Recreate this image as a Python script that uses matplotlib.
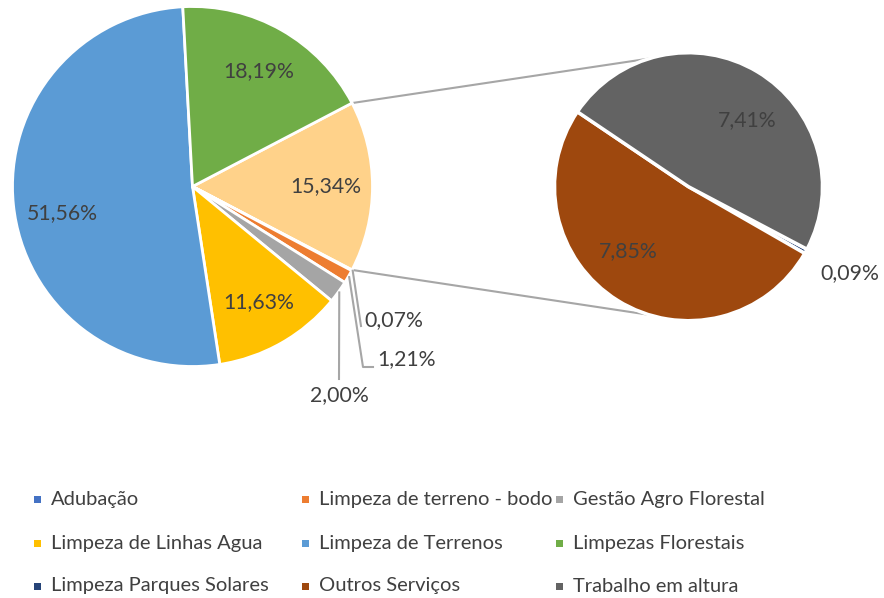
import numpy as np
import matplotlib
matplotlib.use("Agg")
import matplotlib.pyplot as plt
from matplotlib.patches import Rectangle

plt.rcParams['font.family'] = ['Lato', 'DejaVu Sans']

# series, in legend order
names = ['Adubação', 'Limpeza de terreno - bodo', 'Gestão Agro Florestal',
         'Limpeza de Linhas Agua', 'Limpeza de Terrenos', 'Limpezas Florestais',
         'Limpeza Parques Solares', 'Outros Serviços', 'Trabalho em altura']
values = [0.07, 1.21, 2.00, 11.63, 51.56, 18.19, 0.088, 7.846, 7.406]
colors = ['#4472C4', '#ED7D31', '#A5A5A5', '#FFC000', '#5B9BD5', '#70AD47',
          '#264478', '#9E480E', '#636363']
other_color = '#FFD28A'
n_second = 3   # last three go to the second pie

W, H = 884, 598
TXT = '#404040'

def fmt(v):
    return f'{v:.2f}%'.replace('.', ',')

fig = plt.figure(figsize=(W / 100, H / 100), dpi=100)
ax = fig.add_axes([0, 0, 1, 1])

main_vals = values[:-n_second]
main_cols = colors[:-n_second]
sec_vals = values[-n_second:]
sec_cols = colors[-n_second:]
other = sum(sec_vals)

# main pie: "other" slice centred at 3 o'clock, then clockwise
c1, r1 = (192.5, H - 186.5), 180
start1 = other / 100 * 360 / 2
w1, _ = ax.pie([other] + main_vals, colors=[other_color] + main_cols,
               startangle=start1, counterclock=False, center=c1, radius=r1,
               wedgeprops=dict(edgecolor='white', linewidth=2))

# second pie
c2, r2 = (688.5, H - 186.7), 134
start2 = -27.8
w2, _ = ax.pie(sec_vals, colors=sec_cols, startangle=start2,
               counterclock=False, center=c2, radius=r2,
               wedgeprops=dict(edgecolor='white', linewidth=2.5))

def mid(w):
    return np.deg2rad((w.theta1 + w.theta2) / 2)

def polar(c, r, a):
    return c[0] + r * np.cos(a), c[1] + r * np.sin(a)

# connector lines between the pies
ow = w1[0]
conn = np.deg2rad(107)
for a1, a2 in [(ow.theta2, conn), (ow.theta1, -conn)]:
    p = polar(c1, r1, np.deg2rad(a1))
    q = polar(c2, r2, a2)
    ax.plot([p[0], q[0]], [p[1], q[1]], color='#A6A6A6', lw=1.5, zorder=0)

# inside labels
FS = 15.3
nudge = {'Limpeza de Terrenos': 5.5, 'Trabalho em altura': -10.7,
         'Outros Serviços': -11.4}
lbl_kw = dict(fontsize=FS, color=TXT, ha='center', va='center')
ax.text(*polar(c1, 0.74 * r1, mid(ow)), fmt(other), **lbl_kw)
for w, nm, v in zip(w1[1:], names, main_vals):
    if v < 5:
        continue
    a = mid(w) + np.deg2rad(nudge.get(nm, 0))
    ax.text(*polar(c1, 0.74 * r1, a), fmt(v), **lbl_kw)
for w, nm, v in zip(w2, names[-n_second:], sec_vals):
    if v < 1:
        ax.text(850, H - 273, fmt(v), **lbl_kw)
        continue
    a = mid(w) + np.deg2rad(nudge.get(nm, 0))
    ax.text(*polar(c2, 0.66 * r2, a), fmt(v), **lbl_kw)

# outside labels with leader lines for the small main slices
outside = [
    dict(text=(364, 320), ha='left', path=[(361, 326)]),
    dict(text=(377, 359), ha='left', path=[(363, 367), (373, 367)]),
    dict(text=(339, 395), ha='center', path=[(339, 379)]),
]
for w, v, o in zip(w1[1:4], main_vals[:3], outside):
    p = polar(c1, r1 + 1, mid(w))
    xs = [p[0]] + [pt[0] for pt in o['path']]
    ys = [p[1]] + [H - pt[1] for pt in o['path']]
    ax.plot(xs, ys, color='#A6A6A6', lw=1.5)
    ax.text(o['text'][0], H - o['text'][1], fmt(v), fontsize=FS, color=TXT,
            ha=o['ha'], va='center')

# legend, 3 columns
col_x = [37, 305, 559]
row_y = [499, 543, 586]
for i, (nm, col) in enumerate(zip(names, colors)):
    x, y = col_x[i % 3], H - row_y[i // 3]
    ax.add_patch(Rectangle((x - 3.5, y - 3.5), 7, 7, color=col, lw=0))
    ax.text(x + 14, y, nm, fontsize=14.5, color=TXT, ha='left', va='center')

ax.set_xlim(0, W)
ax.set_ylim(0, H)
ax.set_aspect('equal')
ax.axis('off')

fig.savefig('out.png', dpi=100)
